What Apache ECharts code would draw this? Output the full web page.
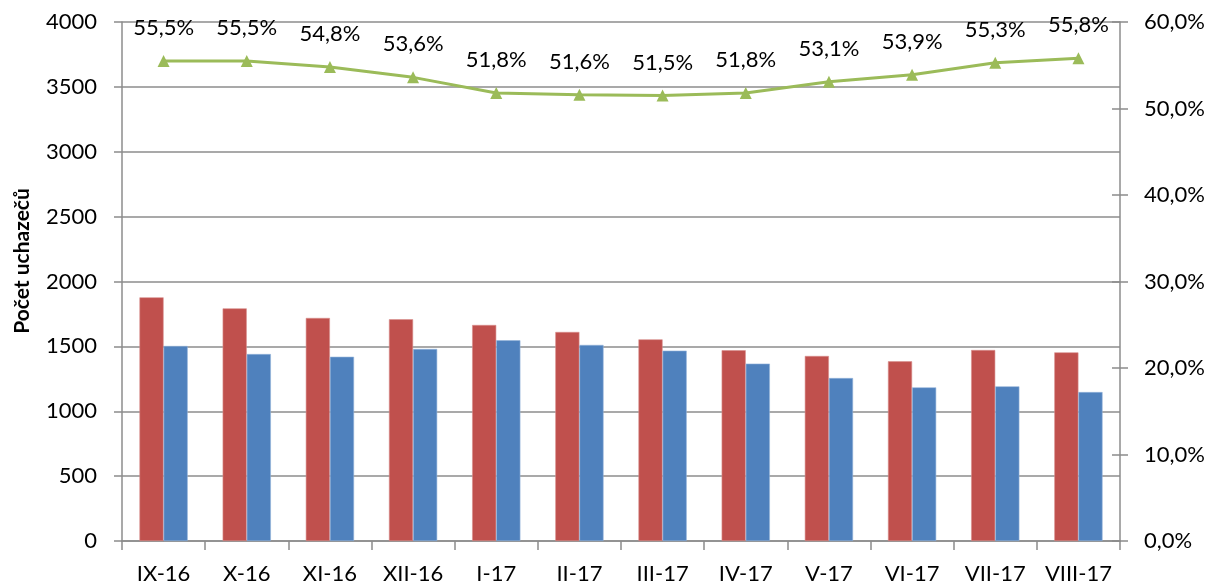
<!DOCTYPE html>
<html><head><meta charset="utf-8">
<script src="https://cdn.jsdelivr.net/npm/echarts@6/dist/echarts.min.js"></script>
<style>html,body{margin:0;padding:0;background:#fff}#c{width:1216px;height:587px}</style>
</head><body><div id="c"></div>
<script>
const categories = ['IX-16','X-16','XI-16','XII-16','I-17','II-17','III-17','IV-17','V-17','VI-17','VII-17','VIII-17'];
const seriesRed = [1878,1793,1719,1709,1665,1611,1554,1470,1426,1385,1472,1454];
const seriesBlue = [1503,1441,1420,1480,1547,1511,1467,1367,1256,1184,1192,1148];
const sharePct = [55.5,55.5,54.8,53.6,51.8,51.6,51.5,51.8,53.1,53.9,55.3,55.8];
const leftTicks = [0,500,1000,1500,2000,2500,3000,3500,4000];
const rightTicks = [0,10,20,30,40,50,60];
const yName = 'Počet uchazečů';

const FONT = 'Lato, "Open Sans", sans-serif';
const GRAY = '#8c8c8c';
const chart = echarts.init(document.getElementById('c'));
const fmtPct = v => v.toFixed(1).replace('.', ',') + '%';
chart.setOption({
  animation: false,
  grid: {left: 122, right: 96, top: 22, bottom: 46, containLabel: false},
  graphic: [{
    type: 'text', x: 22, y: 261, rotation: Math.PI/2,
    style: {text: yName, font: 'bold 21px ' + FONT, fill: '#000', align: 'center', verticalAlign: 'middle'}
  }],
  xAxis: {
    type: 'category', data: categories, boundaryGap: true,
    axisLine: {lineStyle: {color: GRAY, width: 1.5}},
    axisTick: {show: true, alignWithLabel: false, length: 9, lineStyle: {color: GRAY, width: 1.5}},
    axisLabel: {color: '#000', fontSize: 22, fontFamily: FONT, margin: 22, interval: 0}
  },
  yAxis: [{
    type: 'value', min: leftTicks[0], max: leftTicks[leftTicks.length-1], interval: 500,
    axisLine: {show: true, lineStyle: {color: GRAY, width: 1.5}},
    axisTick: {show: true, length: 8, lineStyle: {color: GRAY, width: 1.5}},
    axisLabel: {color: '#000', fontSize: 22, fontFamily: FONT, margin: 25, formatter: v => String(v)},
    splitLine: {show: true, lineStyle: {color: GRAY, width: 1.5}}
  }, {
    type: 'value', position: 'right', min: rightTicks[0], max: rightTicks[rightTicks.length-1], interval: 10,
    axisLine: {show: true, lineStyle: {color: GRAY, width: 1.5}},
    axisTick: {show: true, length: 8, lineStyle: {color: GRAY, width: 1.5}},
    axisLabel: {color: '#000', fontSize: 22, fontFamily: FONT, margin: 24, formatter: v => fmtPct(v)},
    splitLine: {show: false}
  }, {
    type: 'value', position: 'right', min: rightTicks[0], max: rightTicks[rightTicks.length-1], interval: 10,
    axisLine: {show: false},
    axisTick: {show: true, inside: true, length: 8, lineStyle: {color: GRAY, width: 1.5}},
    axisLabel: {show: false},
    splitLine: {show: false}
  }],
  series: [{
    type: 'bar', data: seriesRed, yAxisIndex: 0, barGap: '0%', barCategoryGap: '42%',
    itemStyle: {color: '#C0504D', borderColor: '#d98f8d', borderWidth: 0.6}
  }, {
    type: 'bar', data: seriesBlue, yAxisIndex: 0,
    itemStyle: {color: '#4F81BD', borderColor: '#93b3da', borderWidth: 0.6}
  }, {
    type: 'line', data: sharePct, yAxisIndex: 1, symbol: 'triangle', symbolSize: 12,
    lineStyle: {color: '#9BBB59', width: 3}, itemStyle: {color: '#9BBB59'},
    label: {show: true, position: 'top', distance: 16, color: '#000', fontSize: 22, fontFamily: FONT, formatter: p => fmtPct(p.value)}
  }]
});
</script></body></html>
